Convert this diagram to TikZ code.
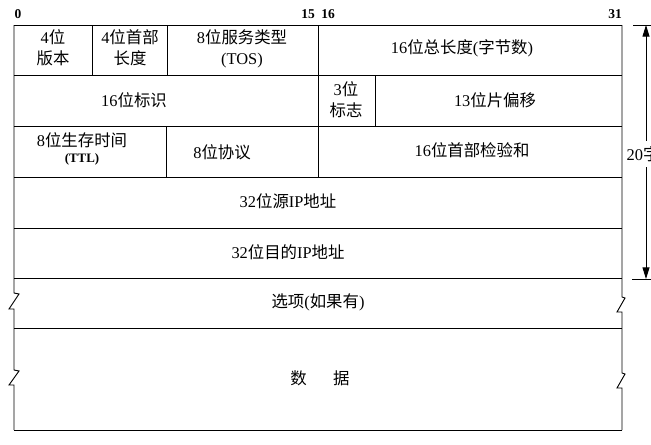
\documentclass[tikz,border=0pt]{standalone}
\usepackage{fontspec}
\setmainfont{Liberation Serif}
\newfontfamily\cjk{Noto Sans CJK SC}
\newcommand{\zhtxt}[1]{{\cjk #1}}
\usetikzlibrary{arrows.meta}
\tikzset{
  field/.style={align=center, font=\fontsize{14}{18}\selectfont, inner sep=0pt},
  bitno/.style={font=\fontsize{11.5}{13}\selectfont\bfseries, inner sep=0pt},
  hdrtip/.tip={Triangle[length=10pt,width=6pt]}
}

\begin{document}
\begin{tikzpicture}[x=0.03cm, y=-0.03cm, line width=0.8pt]
            \useasboundingbox (0,0) rectangle (651,444);

            \draw (14,25) -- (622,25);
            \foreach \y in {75,126,177,228,278,328,430}
                \draw (14,\y) -- (622,\y);

            \draw (14,25) -- (14,293) -- (19,294) -- (9,309) -- (14,309)
                -- (14,370) -- (19,371) -- (9,385) -- (14,385) -- (14,430);
            \draw (622,25) -- (622,297) -- (625,298) -- (617,312) -- (622,312)
                -- (622,373) -- (625,374) -- (617,388) -- (622,388) -- (622,430);

            \draw (92,25) -- (92,75);
            \draw (167,25) -- (167,75);
            \draw (318,25) -- (318,177);
            \draw (375,75) -- (375,126);
            \draw (166,126) -- (166,177);

            \node[bitno] (b0) at (18,14) {0};
            \node[bitno] (b15) at (308,14) {15};
            \node[bitno] (b16) at (328,14) {16};
            \node[bitno] (b31) at (615,14) {31};

            \node[field] (ver) at (53,48) {4\zhtxt{位}\\\zhtxt{版本}};
            \node[field] (hlen) at (130,48) {4\zhtxt{位首部}\\\zhtxt{长度}};
            \node[field] (tos) at (242,49) {8\zhtxt{位服务类型}\\(TOS)};
            \node[field] (tlen) at (462,48) {16\zhtxt{位总长度}(\zhtxt{字节数})};

            \node[field] (ident) at (134,100) {16\zhtxt{位标识}};
            \node[field] (flag) at (346,100) {3\zhtxt{位}\\\zhtxt{标志}};
            \node[field] (frag) at (495,100) {13\zhtxt{位片偏移}};

            \node[field] (ttl) at (82,149) {8\zhtxt{位生存时间}\\[-4pt]{\fontsize{11}{13}\selectfont\bfseries (TTL)}};
            \node[field] (proto) at (222,152) {8\zhtxt{位协议}};
            \node[field] (csum) at (472,150) {16\zhtxt{位首部检验和}};

            \node[field] (src) at (288,201) {32\zhtxt{位源}IP\zhtxt{地址}};
            \node[field] (dst) at (288,252) {32\zhtxt{位目的}IP\zhtxt{地址}};
            \node[field] (opt) at (318,302) {\zhtxt{选项}(\zhtxt{如果有})};
            \node[field] (data) at (320,378) {\zhtxt{数\hspace{1.6em}据}};

            \coordinate (htop) at (646,25);
            \coordinate (hbot) at (646,279);
            \draw[hdrtip-hdrtip] (htop) -- (hbot);
            \draw (htop) +(-13,0) -- +(6,0);
            \draw (hbot) +(-14,0) -- +(6,0);
            \node[field, fill=white, anchor=west, inner xsep=1pt, inner ysep=5pt] (hdr) at (625,154) {20\zhtxt{字节}};

        \end{tikzpicture}
\end{document}
